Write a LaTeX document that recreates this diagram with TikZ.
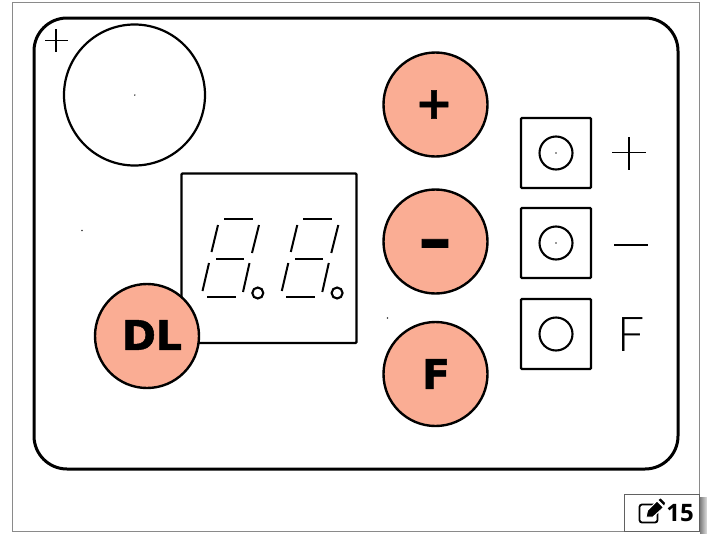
\documentclass[tikz,border=0pt]{standalone}
\usepackage{fontspec}
\setmainfont{DejaVu Sans}
\newfontfamily\heavyfont[BoldFeatures={FakeBold=1.2}]{DejaVu Sans}
\newfontfamily\badgefont{Open Sans}
\newfontfamily\thinfont{Lato Light}
\definecolor{salmon}{HTML}{FAAD94}
\definecolor{framegray}{HTML}{8A8A8A}
\tikzset{
  x=1pt,y=-1pt,
  panel/.style={draw=black,line width=3pt,rounded corners=33pt},
  btn/.style={circle,draw=black,line width=2.4pt,fill=salmon,minimum size=104pt,inner sep=0pt,text=black},
  outlinebox/.style={draw=black,line width=2.2pt,rounded corners=1pt},
  ring/.style={circle,draw=black,line width=2.1pt,inner sep=0pt},
  seg/.style={draw=black,line width=2pt},
  thinmark/.style={draw=black,line width=1.8pt},
  dotmark/.style={fill=black!80,inner sep=0pt,minimum size=1.6pt,circle},
  btnlabel/.style={font=\heavyfont\bfseries\fontsize{#1}{#1}\selectfont},
}
\begin{document}
\begin{tikzpicture}
\useasboundingbox (0,0) rectangle (707,533);
\fill[white] (0,0) rectangle (707,533);
\shade[left color=black!50,right color=black!12] (700,497) rectangle (707,533);
\draw[framegray,line width=0.9pt] (12.5,2.5) rectangle (699.5,531.5);
\draw[panel] (34,18) rectangle (678,469);
% crosshair
\draw[thinmark] (45,40.5) -- (68,40.5) (56,29) -- (56,52);
% big circle
\node[circle,draw=black,line width=2.2pt,minimum size=141pt,inner sep=0pt] (dial) at (134.5,95) {};
\node[dotmark] (d0) at (134.8,95) {};
\node[dotmark] (d1) at (82,230.5) {};
\node[dotmark] (d2) at (387.5,318) {};
% display
\draw[outlinebox] (181.5,173.5) rectangle (356.5,343);
\foreach \dx in {0,79.3}{
  \begin{scope}[xshift=\dx pt]
  \draw[seg] (224,219) -- (253,219);
  \draw[seg] (218,225) -- (211.5,252);
  \draw[seg] (259,225) -- (252,253);
  \draw[seg] (216,258.5) -- (244,258.5);
  \draw[seg] (209,263) -- (202.5,291);
  \draw[seg] (249.5,263) -- (243,292);
  \draw[seg] (207,296.5) -- (236,296.5);
  \node[ring,minimum size=11pt] at (257.8,293) {};
  \end{scope}
}
% buttons
\node[btn,btnlabel=45] (plus) at (435.5,104.5) {\kern-3pt +};
\node[btn,btnlabel=66] (minus) at (435.5,241.5) {\kern-1pt\smash{\raisebox{-20pt}{–}}};
\node[btn,btnlabel=41] (eff) at (435.5,374) {\kern1pt F};
\node[btn,btnlabel=41] (dl) at (147,336) {\kern10pt\raisebox{2pt}{DL}};
% switches
\foreach \n/\y/\m in {a/153/1,b/243/1,c/334/0}{
  \draw[outlinebox] (521,\y-35) rectangle (591,\y+35);
  \node[ring,minimum size=33pt] (\n) at (556,\y) {};
  \ifnum\m=1 \node[dotmark] at (556,\y) {};\fi
}
\draw[thinmark] (612,152.5) -- (646,152.5) (629,137) -- (629,170);
\draw[thinmark] (614,245) -- (648,245);
\node[font=\thinfont\fontsize{48}{48}\selectfont,inner sep=0pt] (ftext) at (631,334.5) {F};
% badge
\draw[framegray!70!black,fill=white,line width=0.9pt] (624.5,494.5) rectangle (699.5,531.5);
\draw[black,line width=1.8pt,rounded corners=2.5pt] (654,504.5) -- (639.5,504.5) -- (639.5,522.5) -- (657.5,522.5) -- (657.5,513);
\fill[black,draw=white,line width=1pt] (646,517) -- (647.5,510.5) -- (657,501) -- (663.5,507.5) -- (653,517) -- cycle;
\fill[black] (658.5,500) -- (660.5,498.5) -- (665,503) -- (664,505.5) -- cycle;
\node[font=\badgefont\bfseries\fontsize{24}{24}\selectfont,inner sep=0pt] (num) at (680,513) {15};
\end{tikzpicture}
\end{document}
